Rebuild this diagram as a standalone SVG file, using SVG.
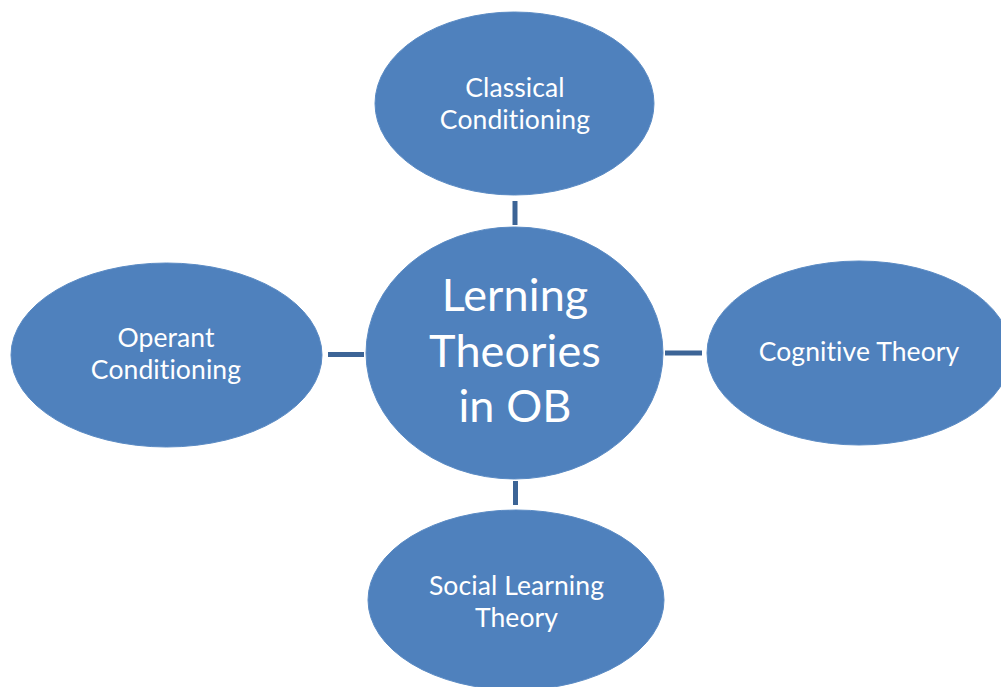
<svg xmlns="http://www.w3.org/2000/svg" width="1001" height="687" viewBox="0 0 1001 687">
<style>
.node ellipse{fill:#4F81BD;stroke:#5B8BC4;stroke-width:1}
.node text{fill:#FFFFFF;font-family:Lato,"Open Sans","Liberation Sans",sans-serif;font-size:26.5px;text-anchor:middle;font-variant-ligatures:none;font-feature-settings:"liga" 0,"clig" 0,"dlig" 0;letter-spacing:0.1px}
.node text.big{font-size:45px}
.conn line{stroke:#3C6496;stroke-width:5}
</style>
<rect width="1001" height="687" fill="#FFFFFF"/>
<g class="conn" id="connectors">
<line x1="515" y1="201" x2="515" y2="225"/>
<line x1="328" y1="354.5" x2="364" y2="354.5"/>
<line x1="665" y1="353" x2="702" y2="353"/>
<line x1="515.5" y1="481" x2="515.5" y2="505"/>
</g>
<g class="node" id="center">
<ellipse cx="514.5" cy="353" rx="148.5" ry="126"/>
<text class="big" x="515" y="311">Lerning</text>
<text class="big" x="515" y="367">Theories</text>
<text class="big" x="515" y="422">in OB</text>
</g>
<g class="node" id="classical">
<ellipse cx="514.5" cy="103.5" rx="139.5" ry="91.5"/>
<text x="515" y="97">Classical</text>
<text x="515" y="129">Conditioning</text>
</g>
<g class="node" id="operant">
<ellipse cx="166.5" cy="355" rx="155.5" ry="92"/>
<text x="166" y="347">Operant</text>
<text x="166" y="379">Conditioning</text>
</g>
<g class="node" id="cognitive">
<ellipse cx="859" cy="353" rx="152" ry="92"/>
<text x="859" y="361">Cognitive Theory</text>
</g>
<g class="node" id="social">
<ellipse cx="516" cy="600" rx="148" ry="90"/>
<text x="516.5" y="595">Social Learning</text>
<text x="516.5" y="627">Theory</text>
</g>
</svg>
